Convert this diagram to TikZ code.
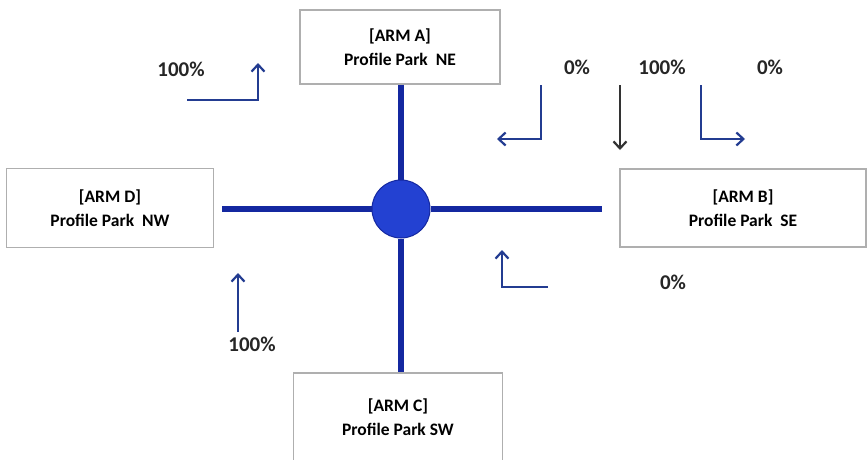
\documentclass[tikz,border=0pt]{standalone}
\usepackage{fontspec}
\setmainfont{Carlito}
\usetikzlibrary{arrows.meta}
\definecolor{roadblue}{RGB}{20, 40, 160}
\definecolor{hubblue}{RGB}{35, 65, 210}
\definecolor{turnblue}{RGB}{35, 60, 145}
\definecolor{boxgray}{RGB}{175, 175, 175}

\begin{document}
\begin{tikzpicture}[x=1pt, y=-1pt,
                armbox/.style={draw=boxgray, line width=1.2pt, fill=white,
                    align=center, inner sep=0pt,
                    font=\fontsize{17.5}{24}\selectfont\bfseries},
                road/.style={draw=roadblue, line width=5.5pt},
                turn/.style={draw=turnblue, line width=2.2pt,
                    -{Straight Barb[length=7pt, width=13pt]}},
                pct/.style={font=\fontsize{21}{22}\selectfont\bfseries,
                    text=black!85}
            ]
                \useasboundingbox (0, 0) rectangle (868, 459);

                % the four arms
                \node[armbox, minimum width=200pt, minimum height=74pt] (armA)
                    at (400, 47) {[ARM A]\\Profile Park\ \ NE};
                \node[armbox, minimum width=246pt, minimum height=78pt] (armB)
                    at (743, 208) {[ARM B]\\Profile Park\ \ SE};
                \node[armbox, minimum width=209pt, minimum height=88pt] (armC)
                    at (398, 417) {[ARM C]\\Profile Park SW};
                \node[armbox, minimum width=207pt, minimum height=79pt] (armD)
                    at (110, 208) {[ARM D]\\Profile Park\ \ NW};

                % junction
                \node[circle, fill=hubblue, draw=roadblue, line width=1pt,
                      minimum size=58pt, inner sep=0pt] (hub) at (401, 209) {};
                \draw[road] (hub |- armA.south) -- (hub.north);
                \draw[road] (hub.south) -- (hub |- armC.north);
                \draw[road, shorten <=8pt] (armD.east |- hub) -- (hub.west);
                \draw[road, shorten >=17pt] (hub.east) -- (armB.west |- hub);

                % turning movements
                \draw[turn] (187, 100) -| (258, 63);
                \draw[turn] (541, 85) |- (497, 139);
                \draw[turn, draw=black!80] (620, 85) -- (620, 150);
                \draw[turn] (701, 85) |- (745, 139);
                \draw[turn] (548, 287) -| (502, 250);
                \draw[turn] (238, 332) -- (238, 273);

                \node[pct] (pctA) at (181, 69) {100\%};
                \node[pct] (pctBl) at (577, 67) {0\%};
                \node[pct] (pctBs) at (662, 67) {100\%};
                \node[pct] (pctBr) at (770, 67) {0\%};
                \node[pct] (pctC) at (673, 282) {0\%};
                \node[pct] (pctD) at (252, 344) {100\%};

            \end{tikzpicture}
\end{document}
